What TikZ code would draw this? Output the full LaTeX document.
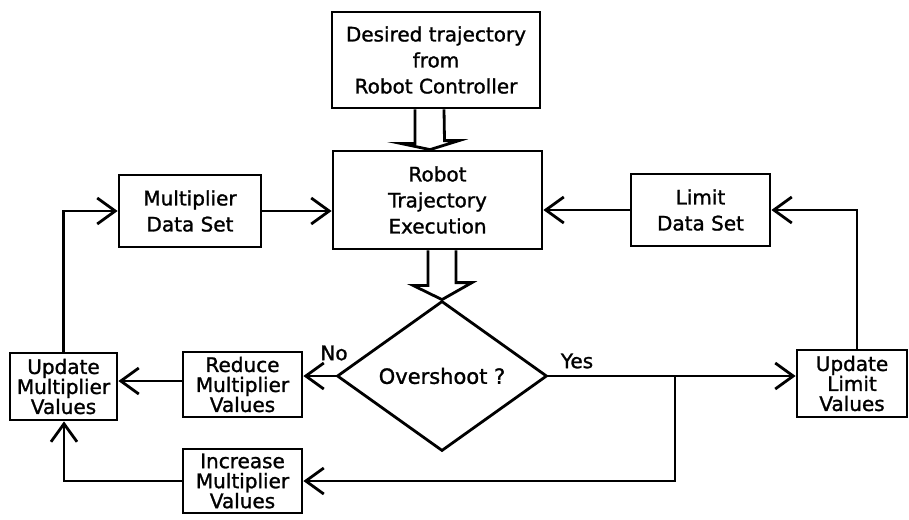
\documentclass[tikz,border=0pt]{standalone}
\usepackage{fontspec}
\setmainfont{DejaVu Sans}[FakeBold=1.3]
\newfontfamily\heavy{DejaVu Sans}[FakeBold=1.3]
\usetikzlibrary{arrows.meta,calc,shapes.geometric}
\begin{document}
\begin{tikzpicture}[x=1pt,y=-1pt,
  every node/.style={font=\heavy\fontsize{20}{26}\selectfont},
  box/.style={draw,line width=2.8pt,align=center,inner sep=0pt},
  tight/.style={box,font=\heavy\fontsize{20}{20}\selectfont},
  arr/.style={line width=2.8pt,line join=miter,-{Straight Barb[length=18pt,width=26pt,line width=2.8pt]}},
  fat/.style={draw,line width=2.8pt,line join=miter},
  lbl/.style={inner sep=0pt}]
\useasboundingbox (0,0) rectangle (909,519);

\node[box,minimum width=208pt,minimum height=96pt] (desired) at (436,60)
  {Desired trajectory\\from\\Robot Controller};
\node[box,minimum width=209pt,minimum height=98pt] (robot) at (437.5,200)
  {Robot\\Trajectory\\Execution};
\node[box,minimum width=142pt,minimum height=72pt] (mds) at (190,211)
  {Multiplier\\Data Set};
\node[box,minimum width=139pt,minimum height=72pt] (lds) at (700.5,210)
  {Limit\\Data Set};
\node[draw,diamond,line width=2.8pt,inner sep=0pt,minimum width=210pt,minimum height=150pt,font=\heavy\fontsize{21}{26}\selectfont] (ovs) at (442,376)
  {Overshoot ?};
\node[tight,minimum width=119pt,minimum height=65pt] (red) at (242.5,384.5)
  {Reduce\\Multiplier\\Values};
\node[tight,minimum width=107pt,minimum height=67pt] (upm) at (63.5,386.5)
  {Update\\Multiplier\\Values};
\node[tight,minimum width=119pt,minimum height=64pt] (inc) at (242.5,481)
  {Increase\\Multiplier\\Values};
\node[tight,minimum width=110pt,minimum height=67pt] (upl) at (852,383.5)
  {Update\\Limit\\Values};

\node[lbl] (no) at (334,353) {No};
\node[lbl] (yes) at (577,361) {Yes};

% hollow (fat) arrows
\draw[fat] ($(desired.south)+(-21,0)$) -- ++(0,34) -- ++(-14.5,0)
  -- ($(robot.north)+(-7.5,0)$) -- ++(29,-9) -- ++(-14.5,0)
  -- ($(desired.south)+(8,0)$);
\draw[fat] ($(robot.south)+(-9.5,0)$) -- ++(0,35) -- ++(-15,0)
  -- (ovs.north) -- ++(30,-17) -- ++(-16,0)
  -- ($(robot.south)+(18.5,0)$);

% connectors
\draw[arr] (mds.east) -- (robot.west |- mds.east);
\draw[arr] (lds.west) -- (robot.east |- lds.west);
\draw[arr] (ovs.west) -- (ovs.west -| red.east);
\draw[arr] ($(red.west)+(0,-3.5)$) -- ($(red.west -| upm.east)+(0,-3.5)$);
\draw[arr] (ovs.east) -- (ovs.east -| upl.west);
\coordinate (j) at (675,376);
\draw[arr] (j) -- (j |- inc.east) -- (inc.east);
\draw[arr] (inc.west) -| ($(upm.south)+(0.5,0)$);
\draw[arr] (upm.north) |- (mds.west);
\draw[arr] ($(upl.north)+(5,0)$) |- (lds.east);
\end{tikzpicture}
\end{document}
